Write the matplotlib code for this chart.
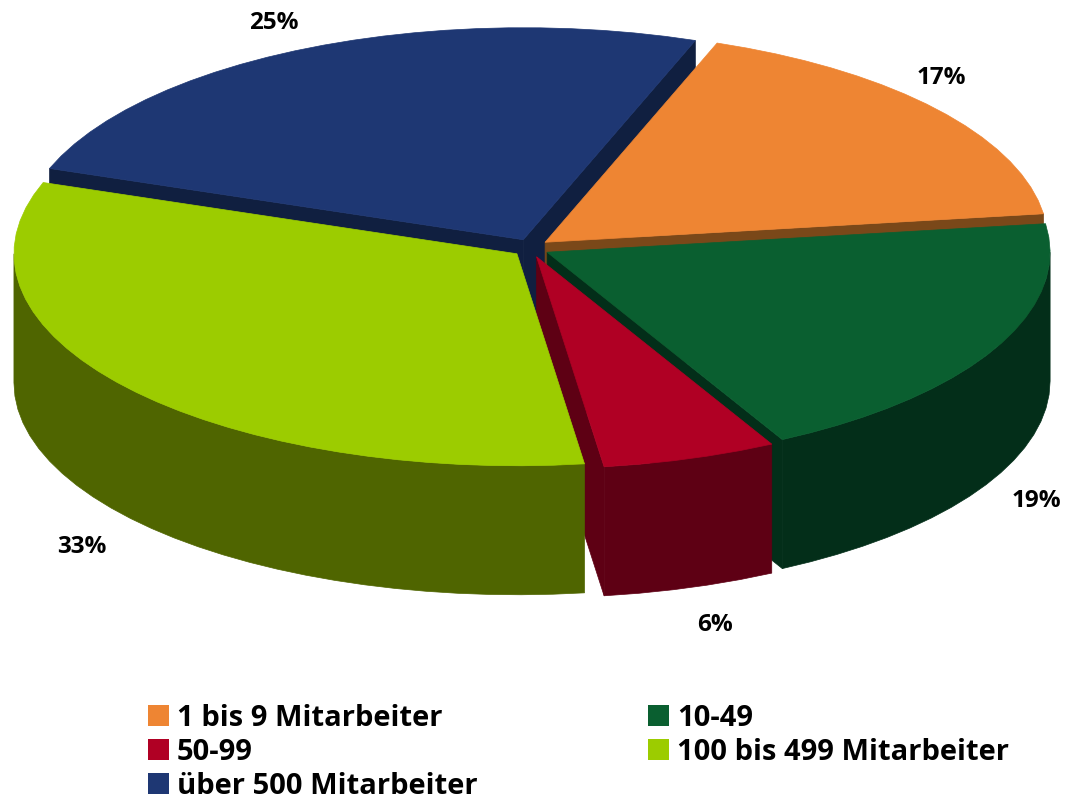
import numpy as np
import matplotlib
matplotlib.use("Agg")
import matplotlib.pyplot as plt

# slices, clockwise from the top
names = ["1 bis 9 Mitarbeiter", "10-49", "50-99", "100 bis 499 Mitarbeiter", "über 500 Mitarbeiter"]
values = [17.3, 19.4, 5.6, 32.6, 25.1]
top_colors = ["#EE8533", "#0A5F30", "#B00024", "#9CCC00", "#1E3773"]
side_colors = ["#7A4819", "#032E19", "#5E0014", "#4F6500", "#101F40"]

# label positions in pixels, same order as the slices
label_x = [941, 1036, 715, 82, 274]
label_y = [78, 501, 625, 547, 23]

# legend is filled row by row
legend_x = [148, 648, 148, 648, 148]
legend_y = [705, 705, 739, 739, 773]

# pie geometry in pixels
cx, cy = 531, 248
rx, ry = 503, 212
depth = 129
explode = 0.036
start_angle = 70

# back to front
draw_order = [4, 0, 1, 2, 3]

plt.rcParams["font.family"] = ["Open Sans", "DejaVu Sans"]

fig = plt.figure(figsize=(10.68, 8), dpi=100)
ax = fig.add_axes([0, 0, 1, 1])
ax.set_xlim(0, 1068)
ax.set_ylim(800, 0)
ax.axis("off")


def arc_points(a0, a1, ox, oy):
    # coarse steps, the original outline is faceted as well
    n = max(int(abs(a1 - a0) / 3.5), 2)
    t = np.radians(np.linspace(a0, a1, n + 1))
    return ox + rx * np.cos(t), oy - ry * np.sin(t)


def radial_face(a, ox, oy, color):
    ex = ox + rx * np.cos(np.radians(a))
    ey = oy - ry * np.sin(np.radians(a))
    ax.fill([ox, ex, ex, ox], [oy, ey, ey + depth, oy + depth], color=color, lw=0.5, zorder=2)


angles = start_angle - np.cumsum([0] + values) * 3.6

for i in draw_order:
    a0, a1 = angles[i], angles[i + 1]
    mid = np.radians((a0 + a1) / 2)
    ox = cx + explode * rx * np.cos(mid)
    oy = cy - explode * ry * np.sin(mid) * 1.2

    # cut faces, only the ones turned to the viewer
    if np.cos(np.radians(a1)) > 0:
        radial_face(a1, ox, oy, side_colors[i])
    if np.cos(np.radians(a0)) < 0:
        radial_face(a0, ox, oy, side_colors[i])

    # outer wall on the front half
    lo, hi = max(a1, -180), min(a0, 0)
    if hi > lo:
        xs, ys = arc_points(hi, lo, ox, oy)
        ax.fill(np.r_[xs, xs[::-1]], np.r_[ys, ys[::-1] + depth], color=side_colors[i], lw=0.5, zorder=2)

    # top
    xs, ys = arc_points(a0, a1, ox, oy)
    ax.fill(np.r_[ox, xs], np.r_[oy, ys], color=top_colors[i], lw=0.5, zorder=2)

for i in range(len(values)):
    ax.text(label_x[i], label_y[i], f"{values[i]:.0f}%", fontsize=17.5, fontweight="bold",
            ha="center", va="center", color="black")

for i in range(len(names)):
    ax.add_patch(plt.Rectangle((legend_x[i], legend_y[i]), 21, 21, color=top_colors[i], lw=0))
    ax.text(legend_x[i] + 29, legend_y[i] + 13, names[i], fontsize=21, fontweight="bold",
            ha="left", va="center", color="black")

fig.savefig("out.png", dpi=100)
